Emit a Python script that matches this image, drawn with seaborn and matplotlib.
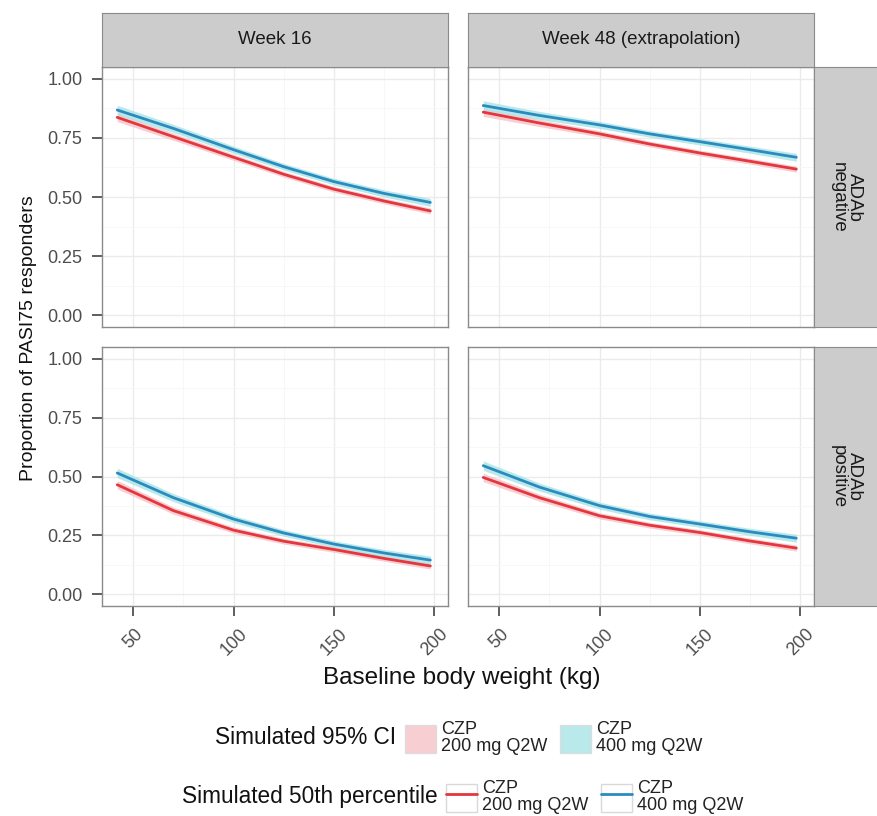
import numpy as np
import pandas as pd
import seaborn as sns
import matplotlib.pyplot as plt
from matplotlib.patches import Patch
from matplotlib.lines import Line2D

# values
weight = [42, 70, 100, 125, 150, 175, 198]
w16_neg_200 = [0.837, 0.755, 0.668, 0.596, 0.533, 0.483, 0.441]
w16_neg_400 = [0.868, 0.790, 0.700, 0.628, 0.565, 0.515, 0.477]
w48_neg_200 = [0.859, 0.813, 0.767, 0.724, 0.686, 0.651, 0.618]
w48_neg_400 = [0.887, 0.845, 0.805, 0.767, 0.734, 0.700, 0.668]
w16_pos_200 = [0.465, 0.355, 0.272, 0.225, 0.190, 0.152, 0.120]
w16_pos_400 = [0.515, 0.410, 0.319, 0.260, 0.213, 0.175, 0.145]
w48_pos_200 = [0.496, 0.410, 0.333, 0.293, 0.262, 0.226, 0.196]
w48_pos_400 = [0.546, 0.455, 0.376, 0.330, 0.298, 0.265, 0.238]
# half width of the simulated 95% CI band
ci_200 = [0.018, 0.015, 0.013, 0.012, 0.012, 0.012, 0.013]
ci_400 = [0.020, 0.017, 0.015, 0.014, 0.014, 0.015, 0.017]

weeks = ['Week 16', 'Week 48 (extrapolation)']
adab = ['ADAb\nnegative', 'ADAb\npositive']
doses = ['CZP\n200 mg Q2W', 'CZP\n400 mg Q2W']

series = {
    (weeks[0], adab[0], doses[0]): w16_neg_200,
    (weeks[0], adab[0], doses[1]): w16_neg_400,
    (weeks[1], adab[0], doses[0]): w48_neg_200,
    (weeks[1], adab[0], doses[1]): w48_neg_400,
    (weeks[0], adab[1], doses[0]): w16_pos_200,
    (weeks[0], adab[1], doses[1]): w16_pos_400,
    (weeks[1], adab[1], doses[0]): w48_pos_200,
    (weeks[1], adab[1], doses[1]): w48_pos_400,
}
half = {doses[0]: ci_200, doses[1]: ci_400}

rows = []
for (wk, ab, dose), vals in series.items():
    for w, v, h in zip(weight, vals, half[dose]):
        rows.append(dict(week=wk, adab=ab, dose=dose, weight=w, value=v, lo=v - h, hi=v + h))
df = pd.DataFrame(rows)

line_col = {doses[0]: '#E4363C', doses[1]: '#2A8BBE'}
fill_col = {doses[0]: '#F6C3C8', doses[1]: '#A9E4E6'}

sns.set_style('white')
plt.rcParams['font.family'] = ['Liberation Sans', 'DejaVu Sans']

W, H = 877, 816
fig = plt.figure(figsize=(W / 100, H / 100), dpi=100)


def box(x0, y0, x1, y1):
    return [x0 / W, 1 - y1 / H, (x1 - x0) / W, (y1 - y0) / H]


px = [(102, 448), (468, 814)]
py = [(67, 327), (347, 606)]
grey_txt = '#4D4D4D'

for r, ab in enumerate(adab):
    for c, wk in enumerate(weeks):
        ax = fig.add_axes(box(px[c][0], py[r][0], px[c][1], py[r][1]))
        sub = df[(df.week == wk) & (df.adab == ab)]
        for dose in doses:
            d = sub[sub.dose == dose]
            ax.fill_between(d.weight, d.lo, d.hi, color=fill_col[dose], alpha=0.8, lw=0, zorder=2)
        sns.lineplot(data=sub, x='weight', y='value', hue='dose', palette=line_col,
                     linewidth=2.0, legend=False, ax=ax, zorder=3)
        ax.set_xlim(34.4, 206.8)
        ax.set_ylim(-0.05, 1.05)
        ax.set_xticks([50, 100, 150, 200])
        ax.set_xticks([75, 125, 175], minor=True)
        ax.set_yticks([0, 0.25, 0.5, 0.75, 1.0])
        ax.set_yticks([0.125, 0.375, 0.625, 0.875], minor=True)
        ax.grid(True, which='major', color='#EBEBEB', lw=1.0, zorder=0)
        ax.grid(True, which='minor', color='#F6F6F6', lw=0.6, zorder=0)
        ax.set_axisbelow(True)
        for s in ax.spines.values():
            s.set_color('#8A8A8A')
            s.set_linewidth(1.0)
        ax.tick_params(which='major', length=7, width=1.1, color='#333333',
                       labelcolor=grey_txt, labelsize=13, pad=7,
                       bottom=(r == 1), left=(c == 0),
                       labelbottom=(r == 1), labelleft=(c == 0))
        ax.tick_params(which='minor', length=0)
        ax.set_xlabel('')
        ax.set_ylabel('')
        if r == 1:
            ax.set_xticklabels(['50', '100', '150', '200'], rotation=45, ha='center')
        if c == 0:
            ax.set_yticklabels(['0.00', '0.25', '0.50', '0.75', '1.00'])

# facet strips
for c, wk in enumerate(weeks):
    s = fig.add_axes(box(px[c][0], 13, px[c][1], 67))
    s.set_facecolor('#CCCCCC')
    s.set_xticks([])
    s.set_yticks([])
    for sp in s.spines.values():
        sp.set_color('#8A8A8A')
    s.text(0.5, 0.5, wk, ha='center', va='center', fontsize=13.5, color='#1A1A1A',
           transform=s.transAxes)
for r, ab in enumerate(adab):
    s = fig.add_axes(box(814, py[r][0], 878, py[r][1]))
    s.set_facecolor('#CCCCCC')
    s.set_xticks([])
    s.set_yticks([])
    for sp in s.spines.values():
        sp.set_color('#8A8A8A')
    s.text(0.5, 0.5, ab, ha='center', va='center', fontsize=13.5, color='#1A1A1A',
           rotation=-90, linespacing=0.95, transform=s.transAxes)

fig.text(462 / W, 1 - 678 / H, 'Baseline body weight (kg)', ha='center', va='center',
         fontsize=17.5, color='#111111')
fig.text(29 / W, 1 - 338 / H, 'Proportion of PASI75 responders', ha='center', va='center',
         rotation=90, fontsize=14, color='#111111')

# legends
key_edge = '#D9D9D9'
fill_handles = [Patch(facecolor=fill_col[d], edgecolor=key_edge, alpha=0.8) for d in doses]
line_handles = [(Patch(facecolor='white', edgecolor=key_edge), Line2D([], [], color=line_col[d], lw=2.0))
                for d in doses]

leg_kw = dict(frameon=False, ncol=2, fontsize=13, handlelength=1.7, handleheight=2.0,
              handletextpad=0.3, columnspacing=0.7, borderpad=0, borderaxespad=0, loc='center left')
leg1 = fig.legend(fill_handles, doses, bbox_to_anchor=(405 / W, 1 - 738 / H), **leg_kw)
leg2 = fig.legend(line_handles, doses, bbox_to_anchor=(446 / W, 1 - 797 / H), **leg_kw)
for leg in (leg1, leg2):
    for t in leg.get_texts():
        t.set_linespacing(0.95)
        t.set_color('#222222')

fig.text(396 / W, 1 - 738 / H, 'Simulated 95% CI', ha='right', va='center', fontsize=16.3, color='#111111')
fig.text(438 / W, 1 - 797 / H, 'Simulated 50th percentile', ha='right', va='center', fontsize=16.3,
         color='#111111')

fig.savefig('out.png', dpi=100)
